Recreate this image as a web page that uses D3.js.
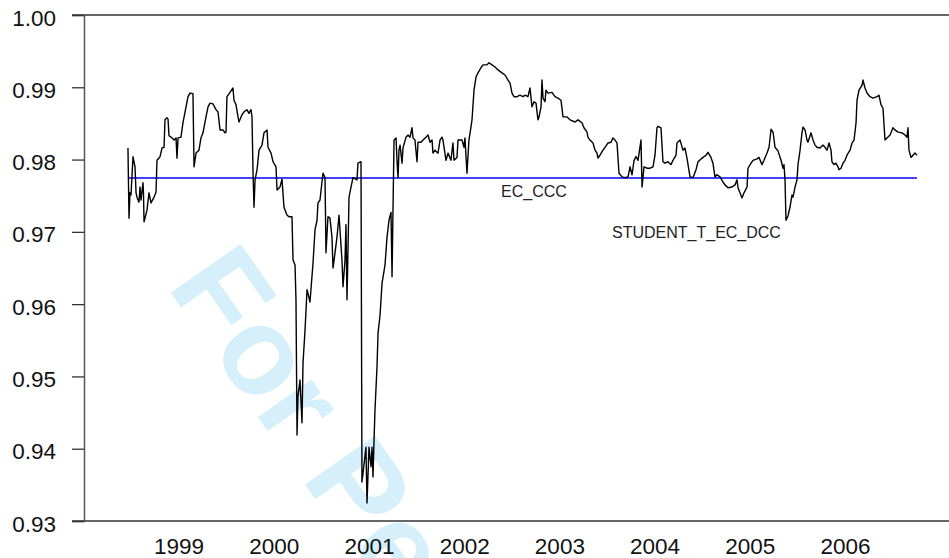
<!DOCTYPE html>
<html>
<head>
<meta charset="utf-8">
<script src="https://cdn.jsdelivr.net/npm/d3@7"></script>
<style>
  html, body { margin: 0; padding: 0; background: #fff; }
  svg { display: block; }
  text { font-family: "Liberation Sans", Arial, Helvetica, sans-serif; }
</style>
</head>
<body>
<svg id="chart" width="949" height="558"></svg>
<script>
// Year labels on the time axis
const yearLabels = [1999, 2000, 2001, 2002, 2003, 2004, 2005, 2006];
// Correlation axis ticks
const yTickValues = [0.93, 0.94, 0.95, 0.96, 0.97, 0.98, 0.99, 1.00];

// Constant conditional correlation (EC_CCC)
const ecCccValue = 0.97745;

// Observation dates (fractional years)
const dates = [
  1998.447, 1998.458, 1998.468, 1998.479, 1998.500, 1998.521, 1998.532, 1998.542, 1998.563, 1998.574,
  1998.584, 1998.605, 1998.610, 1998.616, 1998.647, 1998.668, 1998.689, 1998.721, 1998.742, 1998.752,
  1998.784, 1998.805, 1998.826, 1998.836, 1998.857, 1998.868, 1998.878, 1998.910, 1998.931, 1998.952,
  1998.962, 1998.973, 1999.004, 1999.025, 1999.057, 1999.078, 1999.099, 1999.130, 1999.141, 1999.162,
  1999.193, 1999.214, 1999.235, 1999.267, 1999.288, 1999.309, 1999.340, 1999.372, 1999.393, 1999.414,
  1999.445, 1999.466, 1999.477, 1999.487, 1999.519, 1999.550, 1999.561, 1999.582, 1999.603, 1999.613,
  1999.645, 1999.666, 1999.697, 1999.718, 1999.739, 1999.750, 1999.761, 1999.771, 1999.782, 1999.803,
  1999.824, 1999.855, 1999.876, 1999.908, 1999.918, 1999.950, 1999.971, 2000.002, 2000.013, 2000.044,
  2000.065, 2000.086, 2000.118, 2000.139, 2000.170, 2000.181, 2000.202, 2000.212, 2000.223, 2000.233,
  2000.254, 2000.275, 2000.286, 2000.307, 2000.328, 2000.338, 2000.359, 2000.391, 2000.412, 2000.433,
  2000.443, 2000.464, 2000.485, 2000.496, 2000.517, 2000.527, 2000.548, 2000.569, 2000.590, 2000.601,
  2000.622, 2000.643, 2000.664, 2000.695, 2000.706, 2000.727, 2000.737, 2000.748, 2000.769, 2000.790,
  2000.811, 2000.853, 2000.863, 2000.895, 2000.905, 2000.916, 2000.947, 2000.958, 2000.979, 2001.000,
  2001.011, 2001.021, 2001.032, 2001.042, 2001.063, 2001.074, 2001.095, 2001.116, 2001.147, 2001.168,
  2001.189, 2001.210, 2001.221, 2001.231, 2001.242, 2001.263, 2001.273, 2001.284, 2001.294, 2001.305,
  2001.326, 2001.336, 2001.368, 2001.389, 2001.410, 2001.431, 2001.441, 2001.462, 2001.483, 2001.494,
  2001.525, 2001.546, 2001.578, 2001.599, 2001.620, 2001.641, 2001.651, 2001.672, 2001.693, 2001.704,
  2001.725, 2001.746, 2001.756, 2001.788, 2001.809, 2001.840, 2001.861, 2001.872, 2001.903, 2001.914,
  2001.956, 2001.977, 2001.987, 2002.008, 2002.029, 2002.050, 2002.061, 2002.082, 2002.103, 2002.124,
  2002.155, 2002.176, 2002.218, 2002.239, 2002.271, 2002.303, 2002.334, 2002.376, 2002.408, 2002.439,
  2002.460, 2002.481, 2002.502, 2002.534, 2002.565, 2002.597, 2002.618, 2002.649, 2002.670, 2002.691,
  2002.712, 2002.733, 2002.754, 2002.765, 2002.786, 2002.796, 2002.807, 2002.828, 2002.838, 2002.859,
  2002.901, 2002.933, 2002.964, 2002.996, 2003.017, 2003.059, 2003.090, 2003.143, 2003.174, 2003.216,
  2003.237, 2003.269, 2003.279, 2003.300, 2003.332, 2003.353, 2003.374, 2003.384, 2003.405, 2003.437,
  2003.458, 2003.490, 2003.521, 2003.542, 2003.563, 2003.584, 2003.605, 2003.637, 2003.668, 2003.700,
  2003.721, 2003.742, 2003.763, 2003.784, 2003.805, 2003.836, 2003.847, 2003.868, 2003.899, 2003.931,
  2003.962, 2003.983, 2004.004, 2004.015, 2004.046, 2004.067, 2004.088, 2004.120, 2004.151, 2004.172,
  2004.204, 2004.214, 2004.246, 2004.277, 2004.298, 2004.319, 2004.351, 2004.382, 2004.414, 2004.435,
  2004.477, 2004.519, 2004.540, 2004.571, 2004.592, 2004.613, 2004.634, 2004.666, 2004.697, 2004.718,
  2004.750, 2004.792, 2004.824, 2004.845, 2004.855, 2004.876, 2004.897, 2004.918, 2004.950, 2004.960,
  2004.992, 2005.013, 2005.055, 2005.076, 2005.107, 2005.128, 2005.160, 2005.181, 2005.202, 2005.223,
  2005.244, 2005.275, 2005.307, 2005.328, 2005.338, 2005.349, 2005.359, 2005.380, 2005.401, 2005.422,
  2005.433, 2005.454, 2005.475, 2005.485, 2005.506, 2005.527, 2005.538, 2005.559, 2005.580, 2005.590,
  2005.622, 2005.643, 2005.664, 2005.685, 2005.716, 2005.748, 2005.769, 2005.790, 2005.811, 2005.832,
  2005.842, 2005.863, 2005.884, 2005.905, 2005.916, 2005.937, 2005.958, 2005.979, 2006.000, 2006.032,
  2006.053, 2006.074, 2006.095, 2006.105, 2006.126, 2006.158, 2006.168, 2006.189, 2006.210, 2006.242,
  2006.273, 2006.315, 2006.336, 2006.357, 2006.378, 2006.399, 2006.420, 2006.452, 2006.483, 2006.504,
  2006.536, 2006.578, 2006.609, 2006.630, 2006.641, 2006.651, 2006.672, 2006.693, 2006.714, 2006.735
];

// Dynamic conditional correlation (STUDENT_T_EC_DCC)
const dccValues = [
  0.9816, 0.9719, 0.9754, 0.9751, 0.9804, 0.9790, 0.9754, 0.9748, 0.9741, 0.9762,
  0.9744, 0.9768, 0.9754, 0.9714, 0.9730, 0.9754, 0.9740, 0.9748, 0.9755, 0.9799,
  0.9804, 0.9816, 0.9817, 0.9855, 0.9858, 0.9856, 0.9833, 0.9830, 0.9827, 0.9830,
  0.9802, 0.9830, 0.9831, 0.9851, 0.9873, 0.9887, 0.9892, 0.9891, 0.9790, 0.9809,
  0.9813, 0.9830, 0.9837, 0.9859, 0.9873, 0.9878, 0.9877, 0.9869, 0.9866, 0.9841,
  0.9841, 0.9837, 0.9838, 0.9887, 0.9893, 0.9899, 0.9882, 0.9876, 0.9859, 0.9852,
  0.9862, 0.9866, 0.9869, 0.9864, 0.9869, 0.9859, 0.9781, 0.9734, 0.9772, 0.9786,
  0.9813, 0.9820, 0.9837, 0.9841, 0.9817, 0.9809, 0.9797, 0.9790, 0.9758, 0.9762,
  0.9773, 0.9734, 0.9723, 0.9721, 0.9721, 0.9661, 0.9654, 0.9606, 0.9419, 0.9472,
  0.9495, 0.9436, 0.9519, 0.9564, 0.9620, 0.9615, 0.9603, 0.9657, 0.9703, 0.9716,
  0.9740, 0.9744, 0.9769, 0.9781, 0.9775, 0.9671, 0.9721, 0.9719, 0.9693, 0.9650,
  0.9671, 0.9693, 0.9723, 0.9661, 0.9624, 0.9661, 0.9710, 0.9606, 0.9748, 0.9762,
  0.9775, 0.9772, 0.9795, 0.9797, 0.9354, 0.9366, 0.9402, 0.9325, 0.9402, 0.9375,
  0.9402, 0.9361, 0.9412, 0.9454, 0.9513, 0.9560, 0.9585, 0.9629, 0.9654, 0.9692,
  0.9716, 0.9727, 0.9638, 0.9730, 0.9827, 0.9830, 0.9799, 0.9775, 0.9813, 0.9820,
  0.9795, 0.9816, 0.9831, 0.9834, 0.9831, 0.9844, 0.9830, 0.9827, 0.9797, 0.9824,
  0.9824, 0.9827, 0.9831, 0.9834, 0.9824, 0.9827, 0.9809, 0.9813, 0.9810, 0.9809,
  0.9827, 0.9831, 0.9827, 0.9799, 0.9809, 0.9799, 0.9823, 0.9799, 0.9803, 0.9827,
  0.9827, 0.9817, 0.9830, 0.9781, 0.9827, 0.9845, 0.9855, 0.9896, 0.9914, 0.9920,
  0.9927, 0.9931, 0.9931, 0.9934, 0.9931, 0.9928, 0.9924, 0.9920, 0.9917, 0.9910,
  0.9906, 0.9892, 0.9887, 0.9887, 0.9889, 0.9887, 0.9889, 0.9887, 0.9899, 0.9873,
  0.9880, 0.9878, 0.9855, 0.9859, 0.9873, 0.9910, 0.9885, 0.9880, 0.9896, 0.9892,
  0.9893, 0.9887, 0.9885, 0.9882, 0.9859, 0.9859, 0.9855, 0.9852, 0.9855, 0.9851,
  0.9844, 0.9838, 0.9831, 0.9827, 0.9823, 0.9813, 0.9809, 0.9802, 0.9806, 0.9813,
  0.9817, 0.9823, 0.9824, 0.9830, 0.9827, 0.9823, 0.9781, 0.9776, 0.9775, 0.9776,
  0.9790, 0.9779, 0.9799, 0.9804, 0.9799, 0.9827, 0.9762, 0.9790, 0.9788, 0.9788,
  0.9790, 0.9806, 0.9844, 0.9846, 0.9844, 0.9797, 0.9795, 0.9797, 0.9793, 0.9799,
  0.9806, 0.9823, 0.9827, 0.9813, 0.9816, 0.9802, 0.9776, 0.9775, 0.9786, 0.9797,
  0.9802, 0.9806, 0.9810, 0.9803, 0.9795, 0.9776, 0.9779, 0.9776, 0.9769, 0.9765,
  0.9761, 0.9762, 0.9765, 0.9772, 0.9761, 0.9754, 0.9747, 0.9754, 0.9762, 0.9788,
  0.9795, 0.9799, 0.9801, 0.9803, 0.9793, 0.9799, 0.9809, 0.9817, 0.9842, 0.9838,
  0.9817, 0.9812, 0.9799, 0.9788, 0.9793, 0.9772, 0.9716, 0.9722, 0.9734, 0.9751,
  0.9748, 0.9762, 0.9772, 0.9793, 0.9812, 0.9837, 0.9845, 0.9841, 0.9827, 0.9824,
  0.9837, 0.9827, 0.9820, 0.9817, 0.9816, 0.9820, 0.9817, 0.9813, 0.9823, 0.9813,
  0.9797, 0.9793, 0.9795, 0.9790, 0.9786, 0.9788, 0.9795, 0.9799, 0.9806, 0.9813,
  0.9823, 0.9827, 0.9851, 0.9882, 0.9896, 0.9903, 0.9910, 0.9899, 0.9892, 0.9887,
  0.9885, 0.9887, 0.9889, 0.9876, 0.9871, 0.9827, 0.9830, 0.9834, 0.9844, 0.9841,
  0.9838, 0.9837, 0.9834, 0.9831, 0.9844, 0.9813, 0.9803, 0.9806, 0.9809, 0.9806
];

const W = 949, H = 558;
const svg = d3.select("#chart");

const plot = { left: 84, right: 949, top: 15, bottom: 521 };

const x = d3.scaleLinear().domain([1998, 2007]).range([85.4, 942.2]);
const y = d3.scaleLinear().domain([0.93, 1.00]).range([plot.bottom, plot.top]);

// Background watermark (runs off the bottom edge)
svg.append("text")
  .attr("transform", "translate(166,286) rotate(55)")
  .attr("font-size", 124)
  .attr("font-weight", "bold")
  .attr("fill", "#d5effb")
  .text("For Peer Review");

// Frame: top and bottom rules, left axis
const frame = svg.append("g").attr("stroke", "#333").attr("stroke-width", 1.3).attr("fill", "none");
frame.append("line").attr("x1", 72).attr("x2", W).attr("y1", y(1.00)).attr("y2", y(1.00));
frame.append("line").attr("x1", 72).attr("x2", W).attr("y1", y(0.93)).attr("y2", y(0.93));

const yAxis = d3.axisLeft(y)
  .tickValues(yTickValues)
  .tickFormat(d3.format(".2f"))
  .tickSize(12)
  .tickPadding(16);

const gy = svg.append("g")
  .attr("transform", `translate(${plot.left},0)`)
  .call(yAxis);
gy.select(".domain").attr("stroke", "#555").attr("stroke-width", 1.5);
gy.selectAll(".tick line").attr("stroke", "#333").attr("stroke-width", 1.3);
gy.selectAll(".tick text")
  .attr("font-size", 22.5)
  .attr("fill", "#111")
  .attr("font-family", "'Liberation Sans', Arial, sans-serif")
  .attr("dy", "0.45em");

// Year labels
svg.append("g").selectAll("text")
  .data(yearLabels)
  .join("text")
  .attr("x", d => x(d) - 1.5)
  .attr("y", 554)
  .attr("text-anchor", "middle")
  .attr("font-size", 22.5)
  .attr("fill", "#111")
  .text(d => d);

// Series
const series = dates.map((t, i) => ({ t, v: dccValues[i] }));
const line = d3.line().x(d => x(d.t)).y(d => y(d.v));

svg.append("path")
  .datum([{ t: dates[0], v: ecCccValue }, { t: dates[dates.length - 1], v: ecCccValue }])
  .attr("d", line)
  .attr("fill", "none")
  .attr("stroke", "#0000ff")
  .attr("stroke-width", 1.3);

svg.append("path")
  .datum(series)
  .attr("d", line)
  .attr("fill", "none")
  .attr("stroke", "#000")
  .attr("stroke-width", 1.4)
  .attr("stroke-linejoin", "round");

// Series labels
svg.append("text")
  .attr("x", 501).attr("y", 197)
  .attr("font-size", 16).attr("fill", "#222")
  .text("EC_CCC");
svg.append("text")
  .attr("x", 612).attr("y", 238)
  .attr("font-size", 16).attr("fill", "#222")
  .text("STUDENT_T_EC_DCC");
</script>
</body>
</html>
